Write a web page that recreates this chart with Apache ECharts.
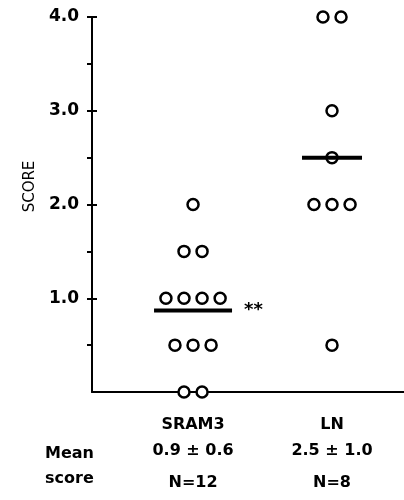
<!DOCTYPE html>
<html>
<head>
<meta charset="utf-8">
<script src="https://cdn.jsdelivr.net/npm/echarts@6/dist/echarts.min.js"></script>
<style>
  html, body { margin: 0; padding: 0; background: #fff; }
  #chart { width: 404px; height: 500px; }
</style>
</head>
<body>
<div id="chart"></div>
<script>
// values
const groups = ['SRAM3', 'LN']
const sram3Scores = [2.0, 1.5, 1.5, 1.0, 1.0, 1.0, 1.0, 0.5, 0.5, 0.5, 0, 0]
const lnScores = [4.0, 4.0, 3.0, 2.5, 2.0, 2.0, 2.0, 0.5]
const meanLines = [0.87, 2.5]
const meanText = ['0.9 ± 0.6', '2.5 ± 1.0']
const nText = ['N=12', 'N=8']
const significance = ['**', '']
const yTicks = [1, 2, 3, 4]
const yMinorTicks = [0.5, 1.5, 2.5, 3.5]

const font = 'DejaVu Sans'
const step = 0.13 // spacing between circles on one row, in x units

// spread equal scores side by side around the group position
const swarm = (scores, g) => {
  const rows = {}
  scores.forEach(v => { rows[v] = (rows[v] || 0) + 1 })
  const seen = {}
  return scores.map(v => {
    const i = seen[v] = (seen[v] === undefined ? 0 : seen[v] + 1)
    return [g + (i - (rows[v] - 1) / 2) * step, v]
  })
}
const widestRow = scores => {
  const rows = {}
  scores.forEach(v => { rows[v] = (rows[v] || 0) + 1 })
  return Math.max(...Object.values(rows))
}
const allScores = [sram3Scores, lnScores]
const points = allScores.map((s, i) => swarm(s, i + 1)).flat()
const halfWidths = allScores.map(s => (widestRow(s) - 1) / 2 * 18 + 12)

const chart = echarts.init(document.getElementById('chart'))

chart.setOption({
  animation: false,
  title: {
    text: 'Mean\nscore',
    left: 45,
    top: 441,
    padding: 0,
    textStyle: { fontFamily: font, fontSize: 16, fontWeight: 'bold', color: '#000', lineHeight: 25 }
  },
  grid: { left: 92, right: 0, top: 17, bottom: 108 },
  xAxis: {
    type: 'value',
    min: 0.273,
    max: 2.518,
    splitLine: { show: false },
    axisLine: { lineStyle: { color: '#000', width: 2 } },
    axisTick: { show: false },
    axisLabel: {
      customValues: [1, 2],
      margin: 20,
      formatter: v => {
        const i = Math.round(v) - 1
        return `{a|${groups[i]}}\n{b|${meanText[i]}}\n{c|${nText[i]}}`
      },
      rich: {
        a: { fontFamily: font, fontSize: 16, fontWeight: 'bold', color: '#000', lineHeight: 26 },
        b: { fontFamily: font, fontSize: 16, fontWeight: 'bold', color: '#000', lineHeight: 26 },
        c: { fontFamily: font, fontSize: 16, fontWeight: 'bold', color: '#000', lineHeight: 38 }
      }
    }
  },
  yAxis: [
    {
      type: 'value',
      min: 0,
      max: 4,
      interval: 1,
      name: 'SCORE',
      nameLocation: 'middle',
      nameGap: 54,
      nameTextStyle: { fontFamily: font, fontSize: 15, color: '#000', padding: [0, 0, 0, 36] },
      splitLine: { show: false },
      axisLine: { lineStyle: { color: '#000', width: 2 } },
      axisTick: {
        customValues: [...yMinorTicks, ...yTicks],
        length: 5,
        lineStyle: { color: '#000', width: 2 }
      },
      axisLabel: {
        customValues: yTicks,
        margin: 13,
        fontFamily: font,
        fontSize: 17,
        fontWeight: 'bold',
        color: '#000',
        formatter: v => v.toFixed(1)
      }
    },
    {
      // inner half of the major ticks
      type: 'value',
      min: 0,
      max: 4,
      interval: 1,
      position: 'left',
      splitLine: { show: false },
      axisLine: { show: false },
      axisLabel: { show: false },
      axisTick: {
        inside: true,
        customValues: yTicks,
        length: 5,
        lineStyle: { color: '#000', width: 2 }
      }
    }
  ],
  series: [
    {
      type: 'scatter',
      data: points,
      clip: false,
      symbol: 'circle',
      symbolSize: 11,
      itemStyle: { color: '#fff', borderColor: '#000', borderWidth: 2.5, opacity: 1 },
      z: 3
    },
    {
      type: 'custom',
      data: meanLines.map((m, i) => [i + 1, m]),
      clip: false,
      z: 4,
      renderItem: (params, api) => {
        const c = api.coord([api.value(0), api.value(1)])
        const half = halfWidths[params.dataIndex]
        return {
          type: 'group',
          children: [
            {
              type: 'line',
              shape: { x1: c[0] - half, y1: c[1], x2: c[0] + half, y2: c[1] },
              style: { stroke: '#000', lineWidth: 4 }
            },
            {
              type: 'text',
              x: c[0] + half + 12,
              y: c[1],
              style: {
                text: significance[params.dataIndex],
                fontFamily: font,
                fontSize: 18,
                fontWeight: 'bold',
                fill: '#000',
                verticalAlign: 'middle'
              }
            }
          ]
        }
      }
    }
  ]
})
</script>
</body>
</html>
